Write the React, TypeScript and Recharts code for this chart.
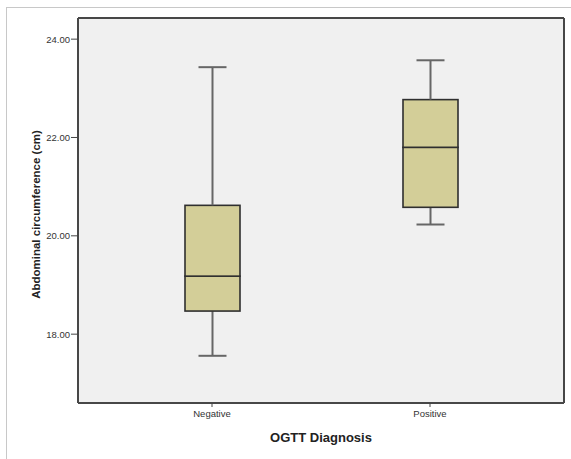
import { Bar, CartesianGrid, ComposedChart, XAxis, YAxis } from "recharts";

const groups = ["Negative", "Positive"];
const mins = [17.56, 20.23];
const q1s = [18.47, 20.58];
const medians = [19.18, 21.8];
const q3s = [20.62, 22.77];
const maxs = [23.43, 23.57];
const yTicks = [18, 20, 22, 24];

const data = groups.map((g, i) => ({
  group: g,
  base: mins[i],
  lowWhisker: q1s[i] - mins[i],
  lowBox: medians[i] - q1s[i],
  highBox: q3s[i] - medians[i],
  highWhisker: maxs[i] - q3s[i],
}));

const FONT = "'Liberation Sans', Arial, sans-serif";
const BOX_FILL = "#d3ce98";
const WHISKER = "#666";
const FRAME = { stroke: "#474747", strokeWidth: 2 };
const CAP = 14;

const Empty = () => <g />;

const BoxPart = (p: any) => (
  <rect x={p.x} y={p.y} width={p.width} height={p.height} fill={BOX_FILL} stroke="#2f2f2f" strokeWidth={1.6} />
);

const LowWhisker = (p: any) => {
  const cx = p.x + p.width / 2;
  const bottom = p.y + p.height;
  return (
    <g stroke={WHISKER} strokeWidth={2}>
      <line x1={cx} y1={p.y} x2={cx} y2={bottom} />
      <line x1={cx - CAP} y1={bottom} x2={cx + CAP} y2={bottom} />
    </g>
  );
};

const HighWhisker = (p: any) => {
  const cx = p.x + p.width / 2;
  return (
    <g stroke={WHISKER} strokeWidth={2}>
      <line x1={cx} y1={p.y} x2={cx} y2={p.y + p.height} />
      <line x1={cx - CAP} y1={p.y} x2={cx + CAP} y2={p.y} />
    </g>
  );
};

const YTitle = (props: any) => {
  const vb = props.viewBox;
  const x = vb.x + 18;
  const y = vb.y + vb.height / 2 + 4;
  return (
    <text
      x={x}
      y={y}
      transform={`rotate(-90, ${x}, ${y})`}
      textAnchor="middle"
      dominantBaseline="central"
      fontFamily={FONT}
      fontWeight="bold"
      fontSize={11.5}
      fill="#222"
    >
      Abdominal circumference (cm)
    </text>
  );
};

export default function App() {
  return (
    <div style={{ position: "absolute", left: 0, top: 0, width: 571, height: 459, overflow: "hidden", background: "#fff" }}>
      <div
        style={{
          position: "absolute",
          left: 6,
          top: 7,
          width: 600,
          height: 500,
          borderTop: "1px solid #c8c8c8",
          borderLeft: "1px solid #c8c8c8",
        }}
      />
      <div style={{ position: "absolute", left: 0, top: 0 }}>
        <ComposedChart width={571} height={459} data={data} margin={{ top: 17, right: 6, bottom: 11, left: 18 }}>
          <CartesianGrid horizontal={false} vertical={false} fill="#f0f0f0" fillOpacity={1} />
          <XAxis
            dataKey="group"
            type="category"
            padding={{ left: 25, right: 25 }}
            height={45}
            axisLine={FRAME}
            tickLine={{ stroke: "#444" }}
            tickSize={4}
            tickMargin={3}
            tick={{ fontSize: 9.5, fontFamily: FONT, fill: "#333" }}
            label={{
              value: "OGTT Diagnosis",
              position: "insideBottom",
              offset: 6,
              style: { fontFamily: FONT, fontWeight: "bold", fontSize: 13, fill: "#222" },
            }}
          />
          <XAxis xAxisId="top" dataKey="group" orientation="top" height={1} axisLine={FRAME} tick={false} tickLine={false} />
          <YAxis
            width={60}
            type="number"
            domain={[16.6, 24.43]}
            allowDataOverflow
            ticks={yTicks}
            tickFormatter={(v: number) => v.toFixed(2)}
            axisLine={FRAME}
            tickLine={{ stroke: "#444" }}
            tickSize={7}
            tickMargin={1}
            tick={{ fontSize: 9.5, fontFamily: FONT, fill: "#333" }}
            label={<YTitle />}
          />
          <YAxis yAxisId="right" orientation="right" width={1} axisLine={FRAME} tick={false} tickLine={false} />
          <Bar dataKey="base" stackId="box" barSize={55} shape={<Empty />} isAnimationActive={false} />
          <Bar dataKey="lowWhisker" stackId="box" barSize={55} shape={<LowWhisker />} isAnimationActive={false} />
          <Bar dataKey="lowBox" stackId="box" barSize={55} shape={<BoxPart />} isAnimationActive={false} />
          <Bar dataKey="highBox" stackId="box" barSize={55} shape={<BoxPart />} isAnimationActive={false} />
          <Bar dataKey="highWhisker" stackId="box" barSize={55} shape={<HighWhisker />} isAnimationActive={false} />
          {/* invisible series so the top and right frame axes are drawn */}
          <Bar xAxisId="top" yAxisId="right" dataKey="base" shape={<Empty />} isAnimationActive={false} />
        </ComposedChart>
      </div>
    </div>
  );
}
